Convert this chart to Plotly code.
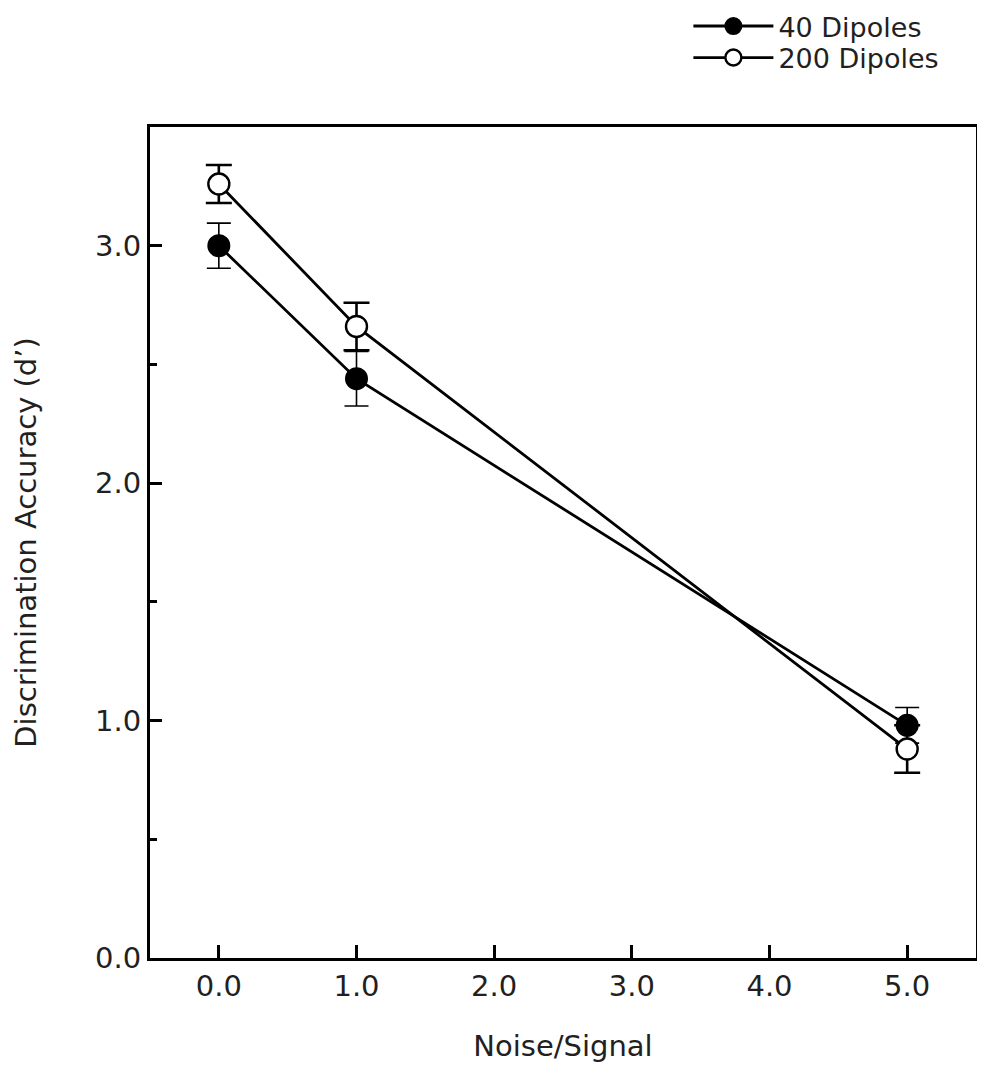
import plotly.graph_objects as go

noise_signal = [0.0, 1.0, 5.0]
d40 = [3.00, 2.44, 0.98]
err40 = [0.095, 0.115, 0.075]
d200 = [3.26, 2.66, 0.88]
err200 = [0.08, 0.10, 0.10]
x_ticks = [0, 1, 2, 3, 4, 5]
y_ticks = [0, 1, 2, 3]

FONT = "DejaVu Sans"
TXT = "#231f20"

fig = go.Figure()
fig.add_trace(go.Scatter(
    x=noise_signal, y=d40, name="40 Dipoles", mode="lines+markers",
    line=dict(color="black", width=2.8),
    marker=dict(symbol="circle", size=21, color="black", line=dict(color="black", width=2)),
    error_y=dict(type="data", array=err40, color="black", thickness=1.6, width=12),
    legend="legend",
))
fig.add_trace(go.Scatter(
    x=noise_signal, y=d200, name="200 Dipoles", mode="lines+markers",
    line=dict(color="black", width=2.8),
    marker=dict(symbol="circle", size=21, color="white", line=dict(color="black", width=2.4)),
    error_y=dict(type="data", array=err200, color="black", thickness=2.6, width=13),
    legend="legend2",
))

leg_common = dict(
    xref="paper", yref="container",
    xanchor="left", yanchor="middle",
    font=dict(family=FONT, size=27, color=TXT),
    bgcolor="rgba(0,0,0,0)", itemwidth=80,
)

# page body has an 8px margin: keep the figure within the viewport so nothing scrolls
fig.update_layout(
    width=969, height=1055,
    margin=dict(l=142, r=1, t=119, b=105),
    paper_bgcolor="white", plot_bgcolor="white",
    font=dict(family=FONT, size=29, color=TXT),
    showlegend=True,
    legend=dict(x=0.6518, y=0.9825, **leg_common),
    legend2=dict(x=0.6518, y=0.9526, **leg_common),
    xaxis=dict(
        range=[-0.5, 5.5], tickvals=x_ticks, tickformat=".1f",
        ticks="inside", ticklen=13, tickwidth=2.5, tickcolor="black",
        showline=True, linecolor="black", linewidth=3, mirror=True,
        showgrid=False, zeroline=False,
        tickfont=dict(family=FONT, size=29, color=TXT),
        title=dict(text="Noise/Signal", font=dict(family=FONT, size=29, color=TXT), standoff=40),
        automargin=False,
    ),
    yaxis=dict(
        range=[0, 3.5], tickvals=y_ticks, tickformat=".1f",
        ticks="inside", ticklen=12, tickwidth=2.5, tickcolor="black",
        minor=dict(ticks="inside", ticklen=7, tickwidth=2.5, tickcolor="black", dtick=0.5, showgrid=False),
        showline=True, linecolor="black", linewidth=3, mirror=True,
        showgrid=False, zeroline=False,
        tickfont=dict(family=FONT, size=29, color=TXT),
        title=dict(text="Discrimination Accuracy (d’)", font=dict(family=FONT, size=29, color=TXT), standoff=50),
        automargin=False,
    ),
)

fig.write_html("out.html")
